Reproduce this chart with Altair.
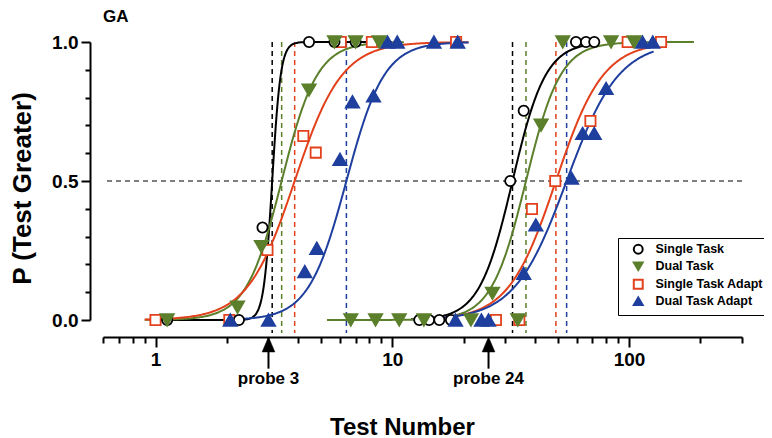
import altair as alt
import pandas as pd

FONT = "Liberation Sans"

# ---------------- series styling keys ----------------
series_names = ["Single Task", "Dual Task", "Single Task Adapt", "Dual Task Adapt"]
series_colors = ["#000000", "#5B7F2B", "#E2411C", "#1F3F9E"]
series_fills = ["#FFFFFF", "#5B7F2B", "#FFFFFF", "#1F3F9E"]
series_shapes = ["circle", "triangle-down", "square", "triangle-up"]

# ---------------- observed proportions ----------------
single_x = [1.12, 2.25, 2.83, 4.45, 5.7, 7.0,
            13.0, 14.3, 15.8, 17.7, 31.5, 35.9, 59.7, 65.8, 71.3]
single_p = [0, 0, 0.333, 1, 1, 1,
            0, 0, 0, 0, 0.5, 0.753, 1, 1, 1]

dual_x = [1.12, 2.22, 2.80, 4.45, 5.7, 7.0, 8.8,
          6.68, 8.5, 10.7, 13.6, 21.5, 26.5, 33.9, 42.5, 52.5, 84, 105]
dual_p = [0, 0.046, 0.264, 0.827, 1, 1, 1,
          0, 0, 0, 0, 0, 0.096, 0, 0.701, 1, 1, 1]

sadapt_x = [1.0, 2.05, 2.97, 4.21, 4.75, 6.06, 8.2, 18.6,
            27.4, 34.4, 38.9, 48.8, 68.7, 98.7, 136.5]
sadapt_p = [0, 0, 0.252, 0.662, 0.602, 1, 1, 1,
            0, 0, 0.399, 0.5, 0.716, 1, 1]

dadapt_x = [2.07, 3.0, 4.27, 4.8, 6.01, 6.79, 8.33, 9.55, 10.5, 15.0, 18.9,
            18.5, 23.8, 25.5, 35.9, 40.4, 57.2, 63.7, 71.3, 80, 114, 126]
dadapt_p = [0, 0, 0.174, 0.258, 0.578, 0.785, 0.806, 1, 1, 1, 1,
            0, 0, 0, 0.168, 0.342, 0.51, 0.671, 0.671, 0.833, 1, 1]

# ---------------- fitted psychometric functions ----------------
curve_series = series_names + series_names
curve_probe = ["probe 3"] * 4 + ["probe 24"] * 4
curve_threshold = [3.11, 3.41, 3.87, 6.40, 32.2, 36.7, 49.1, 54.5]
curve_spread = [0.018, 0.075, 0.10, 0.08, 0.07, 0.073, 0.10, 0.11]
curve_xmin = [1.0, 0.9, 0.9, 2.0, 12.0, 5.3, 16.0, 16.0]
curve_xmax = [10.0, 11.2, 21.0, 21.0, 73.0, 188.0, 145.0, 127.0]

# ---------------- annotations ----------------
probe_x = [3, 25.5]
probe_labels = ["probe 3", "probe 24"]
criterion_level = [0.5]
panel_label = ["GA"]

# ---------------- tables ----------------
open_pts = pd.concat([
    pd.DataFrame({"x": sadapt_x, "p": sadapt_p, "series": "Single Task Adapt"}),
    pd.DataFrame({"x": single_x, "p": single_p, "series": "Single Task"}),
], ignore_index=True)
filled_pts = pd.concat([
    pd.DataFrame({"x": dadapt_x, "p": dadapt_p, "series": "Dual Task Adapt"}),
    pd.DataFrame({"x": dual_x, "p": dual_p, "series": "Dual Task"}),
], ignore_index=True)

curves_df = pd.DataFrame({
    "series": curve_series, "probe": curve_probe, "thr": curve_threshold,
    "spread": curve_spread, "xmin": curve_xmin, "xmax": curve_xmax,
})
probe_df = pd.DataFrame({"x": probe_x, "label": probe_labels})
level_df = pd.DataFrame({"level": criterion_level})
label_df = pd.DataFrame({"label": panel_label})

# ---------------- scales & axes ----------------
x_ticks = [0.6, 0.7, 0.8, 0.9, 1, 2, 3, 4, 5, 6, 7, 8, 9, 10,
           20, 30, 40, 50, 60, 70, 80, 90, 100, 200, 300]
y_ticks = [0, 0.1, 0.2, 0.3, 0.4, 0.5, 0.6, 0.7, 0.8, 0.9, 1.0]

xscale = alt.Scale(type="log", domain=[0.6, 300], nice=False)
yscale = alt.Scale(domain=[0, 1], nice=False, zero=False)

xaxis = alt.Axis(
    values=x_ticks, format="~g",
    labelExpr="(datum.value == 1 || datum.value == 10 || datum.value == 100) ? datum.label : ''",
    tickSize={"condition": {"test": "datum.value == 1 || datum.value == 10 || datum.value == 100",
                            "value": 10}, "value": 6},
    offset=17, grid=False, domainWidth=2, tickWidth=2, domainColor="black", tickColor="black",
    labelFont=FONT, labelFontSize=19, labelFontWeight="bold", labelColor="black",
    labelPadding=3, labelOverlap=False, labelFlush=False,
    title="Test Number", titleFont=FONT, titleFontSize=24, titleFontWeight="bold",
    titleColor="black", titleX=299, titleY=97, titleAlign="center", titleBaseline="alphabetic",
)
yaxis = alt.Axis(
    values=y_ticks, format=".1f",
    labelExpr="(datum.value == 0 || datum.value == 0.5 || datum.value == 1) ? datum.label : ''",
    tickSize={"condition": {"test": "datum.value == 0 || datum.value == 0.5 || datum.value == 1",
                            "value": 9}, "value": 5},
    offset=13, grid=False, domainWidth=2, tickWidth=2, domainColor="black", tickColor="black",
    labelFont=FONT, labelFontSize=19, labelFontWeight="bold", labelColor="black",
    labelPadding=3, labelOverlap=False, labelFlush=False,
    title="P (Test Greater)", titleFont=FONT, titleFontSize=26, titleFontWeight="bold",
    titleColor="black", titleX=-60, titleY=146, titleAngle=270, titleAlign="center",
    titleBaseline="alphabetic",
)

stroke_scale = alt.Scale(domain=series_names, range=series_colors)
fill_scale = alt.Scale(domain=series_names, range=series_fills)
shape_scale = alt.Scale(domain=series_names, range=series_shapes)


def legend():
    return alt.Legend(
        title=None, orient="none", legendX=515, legendY=196,
        strokeColor="black", fillColor="white", padding=5, rowPadding=0,
        labelFont=FONT, labelFontSize=12.5, labelFontWeight="bold", labelColor="black",
        symbolSize=80, symbolStrokeWidth=2, labelOffset=11, symbolOffset=9,
    )


def X(field):
    return alt.X(field, type="quantitative", scale=xscale, axis=xaxis)


def Y(field):
    return alt.Y(field, type="quantitative", scale=yscale, axis=yaxis)


def YD(v):
    return alt.YDatum(v, scale=yscale, axis=yaxis)


# ---------------- layers ----------------
criterion = alt.Chart(level_df).mark_rule(
    color="black", strokeDash=[5, 4], strokeWidth=1.2
).encode(y=Y("level"))

thresholds = alt.Chart(curves_df).mark_rule(
    strokeDash=[5, 4], strokeWidth=1.5
).encode(
    x=X("thr"), y=YD(1.0), y2=alt.datum(-0.047),
    stroke=alt.Stroke("series:N", scale=stroke_scale, legend=legend()),
)

curves = alt.Chart(curves_df).transform_calculate(
    t="sequence(0, 1.0001, 0.004)"
).transform_flatten(["t"]).transform_calculate(
    lx="log(datum.xmin)/LN10 + datum.t*(log(datum.xmax) - log(datum.xmin))/LN10",
).transform_calculate(
    xx="pow(10, datum.lx)",
    pp="1/(1 + exp(-(datum.lx - log(datum.thr)/LN10)/datum.spread))",
    key="datum.series + '|' + datum.probe",
).mark_line(strokeWidth=2).encode(
    x=X("xx"), y=Y("pp"),
    stroke=alt.Stroke("series:N", scale=stroke_scale, legend=legend()),
    detail="key:N", order="t:Q",
)


def point_layer(df, size):
    return alt.Chart(df).mark_point(opacity=1, strokeWidth=1.8, size=size).encode(
        x=X("x"), y=Y("p"),
        shape=alt.Shape("series:N", scale=shape_scale, legend=legend()),
        stroke=alt.Stroke("series:N", scale=stroke_scale, legend=legend()),
        fill=alt.Fill("series:N", scale=fill_scale, legend=legend()),
    )


open_points = point_layer(open_pts, 105)
filled_points = point_layer(filled_pts, 175)

arrow_head = alt.Chart(probe_df).mark_point(
    shape="M0,-1L-0.85,1L0.85,1Z", filled=True, fill="black", stroke="black",
    strokeWidth=0.5, size=225, opacity=1
).encode(x=X("x"), y=YD(-0.088))

arrow_shaft = alt.Chart(probe_df).mark_rule(color="black", strokeWidth=2).encode(
    x=X("x"), y=YD(-0.105), y2=alt.datum(-0.175)
)

arrow_text = alt.Chart(probe_df).mark_text(
    font=FONT, fontSize=17, fontWeight="bold", color="black",
    align="center", baseline="alphabetic"
).encode(x=X("x"), y=YD(-0.232), text="label:N")

panel = alt.Chart(label_df).mark_text(
    font=FONT, fontSize=17, fontWeight="bold", color="black",
    align="left", baseline="alphabetic"
).encode(x=alt.XDatum(0.6, scale=xscale, axis=xaxis), y=YD(1.072), text="label:N")

chart = alt.layer(
    criterion, thresholds, curves, open_points, filled_points,
    arrow_head, arrow_shaft, arrow_text, panel
).properties(
    width=639, height=278,
    autosize=alt.AutoSizeParams(type="none"),
    padding={"left": 95, "top": 34, "right": 22, "bottom": 118},
    background="white",
).configure_view(stroke=None)

chart.save("out.html", embed_options={"renderer": "svg", "actions": False})
